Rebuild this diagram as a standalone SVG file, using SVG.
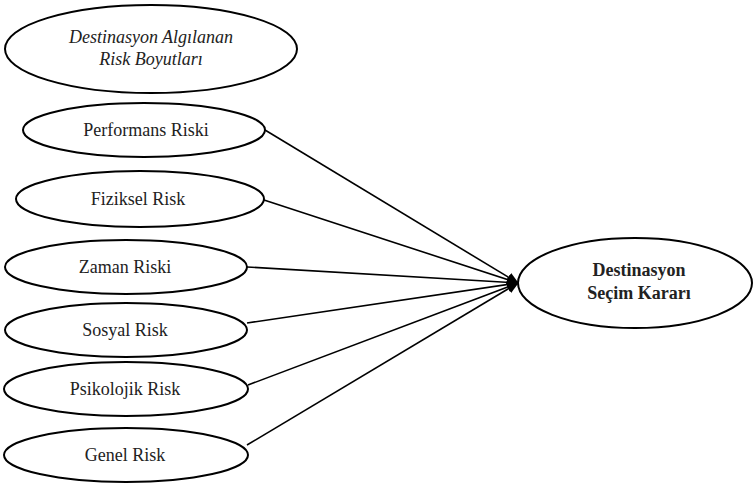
<svg xmlns="http://www.w3.org/2000/svg" width="755" height="486" viewBox="0 0 755 486">
<style>
.n{fill:#fff;stroke:#000;stroke-width:2}
.t{font-family:"Liberation Serif","Times New Roman",serif;font-size:18px;fill:#222;text-anchor:middle}
.i{font-style:italic}
.b{font-weight:bold}
.c{stroke:#000;stroke-width:1.6;fill:none;marker-end:url(#ah)}
</style>
<defs>
<marker id="ah" markerWidth="12" markerHeight="10" refX="11" refY="5" orient="auto" markerUnits="userSpaceOnUse">
<path d="M0,0 L12,5 L0,10 z" fill="#000"/>
</marker>
</defs>
<rect width="755" height="486" fill="#fff"/>
<g id="connectors">
<line class="c" x1="265" y1="130" x2="518" y2="283"/>
<line class="c" x1="264" y1="200" x2="518" y2="283"/>
<line class="c" x1="247" y1="267" x2="518" y2="283"/>
<line class="c" x1="247" y1="323" x2="518" y2="283"/>
<line class="c" x1="248" y1="385" x2="518" y2="283"/>
<line class="c" x1="247" y1="445" x2="518" y2="283"/>
</g>
<g id="header">
<ellipse class="n" cx="151" cy="49" rx="146" ry="44"/>
<text class="t i" x="151" y="43">Destinasyon Algılanan</text>
<text class="t i" x="151" y="65">Risk Boyutları</text>
</g>
<g id="performans">
<ellipse class="n" cx="144" cy="130" rx="121" ry="27"/>
<text class="t" x="146" y="136">Performans Riski</text>
</g>
<g id="fiziksel">
<ellipse class="n" cx="140" cy="199" rx="124" ry="28"/>
<text class="t" x="138" y="205">Fiziksel Risk</text>
</g>
<g id="zaman">
<ellipse class="n" cx="126" cy="267" rx="121" ry="27"/>
<text class="t" x="125" y="273">Zaman Riski</text>
</g>
<g id="sosyal">
<ellipse class="n" cx="126" cy="330" rx="121" ry="27"/>
<text class="t" x="125" y="336">Sosyal Risk</text>
</g>
<g id="psikolojik">
<ellipse class="n" cx="126" cy="389" rx="122" ry="27"/>
<text class="t" x="125" y="395">Psikolojik Risk</text>
</g>
<g id="genel">
<ellipse class="n" cx="126" cy="455" rx="122" ry="27"/>
<text class="t" x="125" y="461">Genel Risk</text>
</g>
<g id="karar">
<ellipse class="n" cx="635" cy="283" rx="117" ry="45"/>
<text class="t b" x="639" y="276">Destinasyon</text>
<text class="t b" x="639" y="299">Seçim Kararı</text>
</g>
</svg>
